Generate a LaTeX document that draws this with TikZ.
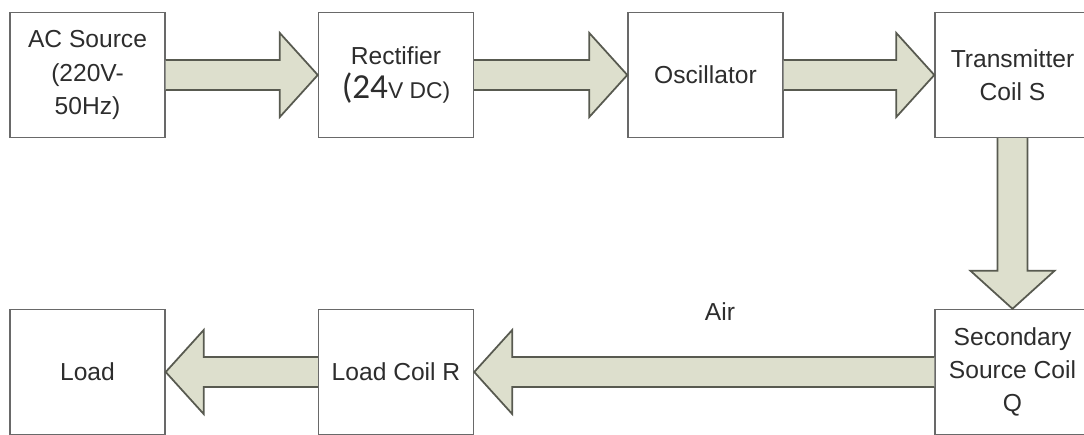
\documentclass[tikz,border=0pt]{standalone}
\usepackage{fontspec}
\setmainfont{Liberation Sans}
\newfontfamily\carlito{Carlito}
\usetikzlibrary{calc}
\definecolor{arrowfill}{RGB}{221,223,205}
\definecolor{arrowline}{RGB}{88,90,80}
\definecolor{boxline}{RGB}{105,105,105}
\definecolor{txt}{RGB}{45,45,45}
\newcommand{\fatarrow}[2]{%
  \coordinate (h) at ($(#2)!0.76cm!(#1)$);
  \filldraw[fat] ($(#1)!0.3cm!90:(#2)$) -- ($(h)!0.3cm!90:(#2)$) -- ($(h)!0.84cm!90:(#2)$) -- (#2)
    -- ($(h)!0.84cm!-90:(#2)$) -- ($(h)!0.3cm!-90:(#2)$) -- ($(#1)!0.3cm!-90:(#2)$);
}
\begin{document}
\begin{tikzpicture}[
  block/.style={draw=boxline, line width=0.8pt, minimum width=3.1cm, minimum height=2.5cm,
    align=center, text=txt, font=\fontsize{14}{19}\selectfont},
  fat/.style={fill=arrowfill, draw=arrowline, line width=1pt, line join=miter}]
\useasboundingbox (0,0) rectangle (21.68,-8.68);

\node[block] (ac) at (1.75,-1.5) {AC Source\\(220V-\\50Hz)};
\node[block] (rect) at (7.92,-1.5) {Rectifier\\{\carlito\fontsize{20}{19}\selectfont(24}{\fontsize{13}{19}\selectfont V DC)}};
\node[block] (osc) at (14.11,-1.5) {Oscillator};
\node[block] (tx) at (20.25,-1.5) {Transmitter\\Coil S};
\node[block] (sec) at (20.25,-7.44) {Secondary\\Source Coil\\Q};
\node[block] (rx) at (7.92,-7.44) {Load Coil R};
\node[block] (load) at (1.75,-7.44) {Load};
\node[text=txt, font=\fontsize{14}{19}\selectfont] (air) at (14.4,-6.24) {Air};

\fatarrow{ac.east}{rect.west}
\fatarrow{rect.east}{osc.west}
\fatarrow{osc.east}{tx.west}
\fatarrow{tx.south}{sec.north}
\fatarrow{sec.west}{rx.east}
\fatarrow{rx.west}{load.east}
\end{tikzpicture}
\end{document}
